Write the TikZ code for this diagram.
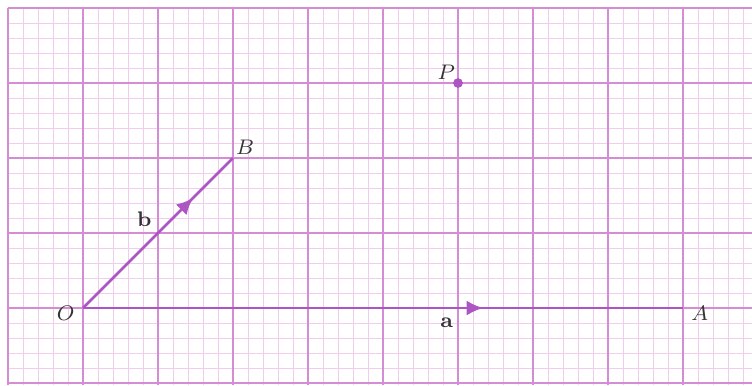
\documentclass[tikz,border=0pt]{standalone}
\usepackage{amsmath,amssymb}
\usepackage{tikz}
\usetikzlibrary{
arrows.meta,
positioning,
decorations.markings
}
\definecolor{GridMajor}{HTML}{D48CD4}
\definecolor{GridMinor}{HTML}{F1CDED}
\definecolor{VecPurple}{HTML}{AD55C2}

\begin{document}
\begin{tikzpicture}[
    x=1cm,
    y=1cm,
    font=\fontsize{8.5pt}{10pt}\selectfont,
    vecline/.style={
        line width=1pt,
        VecPurple
    },
    ptlabel/.style={
        inner sep=1pt,
        text=black!80
    }
]

% Page size
\useasboundingbox (-1.107,-1.027) rectangle (8.92,4.107);

% Graph paper
\draw[
    GridMinor,
    line width=0.35pt,
    step=0.2
]
(-1,-1.03) grid (8.92,4);

\draw[
    GridMajor,
    line width=0.6pt,
    step=1
]
(-1,-1.03) grid (8.92,4);

% Points
\coordinate (O) at (0,0);
\coordinate (A) at (8,0);
\coordinate (B) at (2,2);
\coordinate (P) at (5,3);

% Vectors a and b
\draw[
    vecline,
    postaction={decorate},
    decoration={markings,
        mark=at position 0.667 with {\arrow{Latex[length=2.2mm,width=2mm]}}}
]
(O) -- node[below, pos=0.606, text=black!80] (alab) {$\mathbf{a}$} (A);

\draw[
    vecline,
    postaction={decorate},
    decoration={markings,
        mark=at position 0.735 with {\arrow{Latex[length=2.2mm,width=2mm]}}}
]
(O) -- node[above left, pos=0.5, inner sep=2pt, text=black!80] (blab) {$\mathbf{b}$} (B);

% Point P
\fill[VecPurple] (P) circle (0.065);

% Labels
\node[ptlabel, left=2pt of O, yshift=-0.07cm] (Olab) {$O$};
\node[ptlabel, right=2pt of A, yshift=-0.07cm] (Alab) {$A$};
\node[ptlabel, above right=0pt of B] (Blab) {$B$};
\node[ptlabel, above left=0pt of P] (Plab) {$P$};

\end{tikzpicture}
\end{document}
